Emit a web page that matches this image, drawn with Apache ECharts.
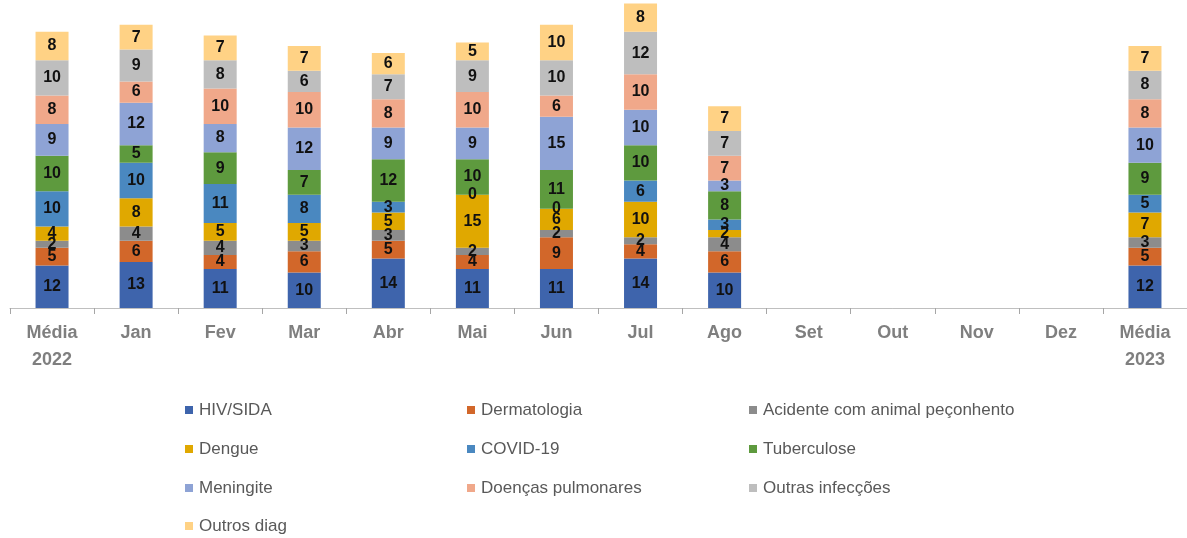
<!DOCTYPE html>
<html>
<head>
<meta charset="utf-8">
<script src="https://cdn.jsdelivr.net/npm/echarts@6/dist/echarts.min.js"></script>
<style>
html,body{margin:0;padding:0;background:#fff;}
#chart{width:1187px;height:538px;}
</style>
</head>
<body>
<div id="chart"></div>
<script>
const categories = ['Média\n2022','Jan','Fev','Mar','Abr','Mai','Jun','Jul','Ago','Set','Out','Nov','Dez','Média\n2023'];
const seriesNames = ['HIV/SIDA','Dermatologia','Acidente com animal peçonhento','Dengue','COVID-19','Tuberculose','Meningite','Doenças pulmonares','Outras infecções','Outros diag'];
const hivSida      = [12,13,11,10,14,11,11,14,10,null,null,null,null,12];
const dermatologia = [5,6,4,6,5,4,9,4,6,null,null,null,null,5];
const acidente     = [2,4,4,3,3,2,2,2,4,null,null,null,null,3];
const dengue       = [4,8,5,5,5,15,6,10,2,null,null,null,null,7];
const covid19      = [10,10,11,8,3,0,0,6,3,null,null,null,null,5];
const tuberculose  = [10,5,9,7,12,10,11,10,8,null,null,null,null,9];
const meningite    = [9,12,8,12,9,9,15,10,3,null,null,null,null,10];
const pulmonares   = [8,6,10,10,8,10,6,10,7,null,null,null,null,8];
const outrasInf    = [10,9,8,6,7,9,10,12,7,null,null,null,null,8];
const outrosDiag   = [8,7,7,7,6,5,10,8,7,null,null,null,null,7];

const values = [hivSida,dermatologia,acidente,dengue,covid19,tuberculose,meningite,pulmonares,outrasInf,outrosDiag];
const colors = ['#3E64AC','#D2672A','#8C8C8C','#E0A800','#4A88C0','#5E9A3E','#8EA3D5','#F0A88A','#BEBEBE','#FFD285'];

const legendCols = [185, 467, 749];
const legendRows = [410, 449, 488, 526];

const legends = seriesNames.map((n, i) => ({
  data: [n],
  left: legendCols[i % 3],
  top: legendRows[Math.floor(i / 3)] - 9,
  itemWidth: 8, itemHeight: 8, itemGap: 0,
  icon: 'rect',
  textStyle: {fontFamily: 'Liberation Sans', fontSize: 17, color: '#595959', padding: [0,0,0,1], lineHeight: 18},
  padding: 0,
  selectedMode: false
}));

const series = seriesNames.map((n, i) => ({
  name: n,
  type: 'bar',
  stack: 'total',
  data: values[i],
  barWidth: 33,
  itemStyle: {color: colors[i]},
  label: {
    show: true,
    position: 'inside',
    fontFamily: 'Liberation Sans',
    fontSize: 16,
    fontWeight: 'bold',
    color: '#111',
    formatter: p => (p.value === null || p.value === undefined) ? '' : String(p.value)
  }
}));

const chart = echarts.init(document.getElementById('chart'));
chart.setOption({
  animation: false,
  color: colors,
  grid: {left: 10, right: 0, top: 0, bottom: 230, containLabel: false},
  xAxis: {
    type: 'category',
    data: categories,
    axisLine: {lineStyle: {color: '#BFBFBF', width: 1}},
    axisTick: {show: true, length: 6, lineStyle: {color: '#A6A6A6'}},
    axisLabel: {
      fontFamily: 'Liberation Sans',
      fontSize: 18,
      fontWeight: 'bold',
      color: '#7F7F7F',
      lineHeight: 27,
      margin: 12,
      interval: 0
    }
  },
  yAxis: {
    type: 'value',
    min: 0,
    max: 87,
    show: false,
    splitLine: {show: false}
  },
  legend: legends,
  series: series
});
</script>
</body>
</html>
